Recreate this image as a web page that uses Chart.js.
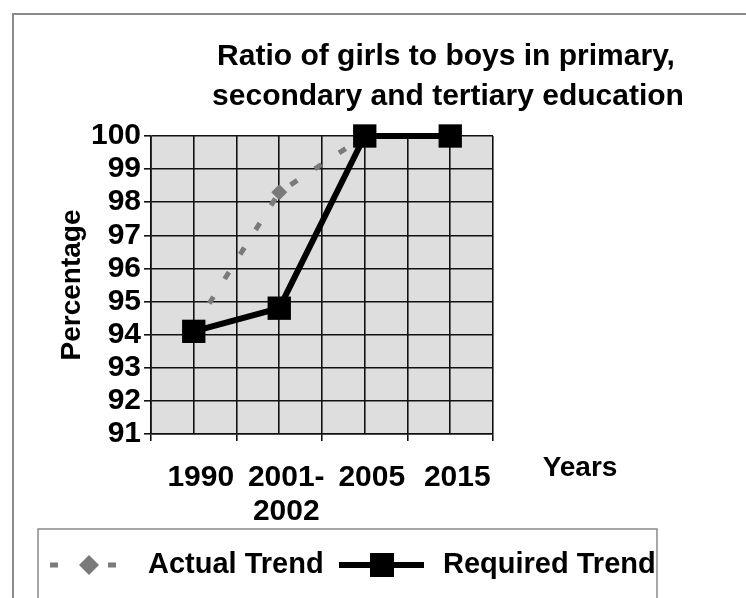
<!DOCTYPE html>
<html>
<head>
<meta charset="utf-8">
<script src="https://cdn.jsdelivr.net/npm/chart.js@4.4.1/dist/chart.umd.min.js"></script>
<style>
  html, body { margin: 0; padding: 0; background: #fff; }
  #wrap { width: 746px; height: 598px; position: relative; }
</style>
</head>
<body>
<div id="wrap"><canvas id="ratioChart"></canvas></div>
<script>
// data
const years = ['1990', ['2001-', '2002'], '2005', '2015'];
const actualTrend = [94.2, 98.3, 100, 100];
const requiredTrend = [94.1, 94.8, 100, 100];
const yMin = 91;
const yMax = 100;

const FONT = "'Liberation Sans', Arial, sans-serif";
const GRID = '#111';

// titles, frame, plot background and the boxed legend
const decor = {
  id: 'decor',
  beforeDraw(chart) {
    const { ctx, chartArea: a } = chart;
    ctx.save();
    ctx.fillStyle = '#fff';
    ctx.fillRect(0, 0, chart.width, chart.height);
    ctx.strokeStyle = '#8a8a8a';
    ctx.lineWidth = 2;
    ctx.strokeRect(13, 14, chart.width, chart.height);
    ctx.fillStyle = '#dedede';
    ctx.fillRect(a.left, a.top, a.right - a.left, a.bottom - a.top);
    ctx.restore();
  },
  afterDraw(chart) {
    const ctx = chart.ctx;
    ctx.save();
    ctx.fillStyle = '#000';
    ctx.textBaseline = 'middle';

    // title
    ctx.font = 'bold 30px ' + FONT;
    ctx.textAlign = 'center';
    ctx.fillText('Ratio of girls to boys in primary,', 446, 57);
    ctx.fillText('secondary and tertiary education', 448, 97);

    // axis titles
    ctx.font = 'bold 28px ' + FONT;
    ctx.fillText('Years', 580, 468);
    ctx.save();
    ctx.translate(72, 285);
    ctx.rotate(-Math.PI / 2);
    ctx.fillText('Percentage', 0, 0);
    ctx.restore();

    // legend
    ctx.strokeStyle = '#8a8a8a';
    ctx.lineWidth = 1.5;
    ctx.strokeRect(38, 529, 619, 100);

    const ds = chart.data.datasets;
    const ly = 565;
    // actual trend sample
    ctx.strokeStyle = ds[0].borderColor;
    ctx.lineWidth = ds[0].borderWidth;
    ctx.setLineDash([8, 50]);
    ctx.beginPath();
    ctx.moveTo(50, ly);
    ctx.lineTo(118, ly);
    ctx.stroke();
    ctx.setLineDash([]);
    ctx.fillStyle = ds[0].pointBackgroundColor;
    ctx.beginPath();
    ctx.moveTo(89, ly - 10);
    ctx.lineTo(99, ly);
    ctx.lineTo(89, ly + 10);
    ctx.lineTo(79, ly);
    ctx.closePath();
    ctx.fill();

    // required trend sample
    ctx.strokeStyle = ds[1].borderColor;
    ctx.lineWidth = ds[1].borderWidth;
    ctx.beginPath();
    ctx.moveTo(339, ly);
    ctx.lineTo(424, ly);
    ctx.stroke();
    ctx.fillStyle = ds[1].pointBackgroundColor;
    ctx.fillRect(382 - 12, ly - 12, 24, 24);

    ctx.fillStyle = '#000';
    ctx.font = 'bold 29px ' + FONT;
    ctx.textAlign = 'left';
    ctx.fillText(ds[0].label, 148, ly);
    ctx.fillText(ds[1].label, 443, ly);
    ctx.restore();
  }
};

const ctxR = document.getElementById('ratioChart');
const ratioChart = new Chart(ctxR, {
  type: 'line',
  data: {
    datasets: [{
      label: 'Actual Trend',
      data: actualTrend.map((v, i) => ({ x: i, y: v })),
      borderColor: '#7a7a7a',
      borderWidth: 5,
      borderDash: [8, 21],
      pointStyle: 'rectRot',
      pointRadius: 8,
      pointBackgroundColor: '#7a7a7a',
      pointBorderWidth: 0,
      tension: 0,
      clip: false,
      order: 1
    },
    {
      label: 'Required Trend',
      data: requiredTrend.map((v, i) => ({ x: i, y: v })),
      borderColor: '#000',
      borderWidth: 6,
      pointStyle: 'rect',
      pointRadius: 16.5,
      pointBackgroundColor: '#000',
      pointBorderWidth: 0,
      tension: 0,
      clip: false,
      order: 0
    }]
  },
  options: {
    responsive: true,
    maintainAspectRatio: false,
    animation: false,
    layout: { padding: { top: 136, right: 253, left: 0, bottom: 0 } },
    scales: {
      x: {
        type: 'linear',
        min: -0.5,
        max: 3.5,
        ticks: {
          stepSize: 0.5,
          autoSkip: false,
          maxRotation: 0,
          padding: 19,
          labelOffset: 7,
          color: '#000',
          font: { family: FONT, size: 30, weight: 'bold', lineHeight: 1.15 },
          callback: v => Number.isInteger(v) ? years[v] : ''
        },
        grid: {
          color: GRID,
          lineWidth: 1.6,
          tickLength: 7,
          tickColor: c => Number.isInteger(c.tick.value) ? 'rgba(0,0,0,0)' : GRID
        },
        border: { color: GRID, width: 1.6 },
        afterFit(scale) { scale.height = 164; }
      },
      y: {
        min: yMin,
        max: yMax,
        ticks: {
          stepSize: 1,
          autoSkip: false,
          padding: 3,
          color: '#000',
          font: { family: FONT, size: 30, weight: 'bold' }
        },
        grid: { color: GRID, lineWidth: 1.6, tickLength: 7 },
        border: { color: GRID, width: 1.6 },
        afterFit(scale) { scale.width = 151; }
      }
    },
    plugins: {
      legend: { display: false },
      title: { display: false },
      tooltip: { enabled: false }
    }
  },
  plugins: [decor]
});
</script>
</body>
</html>
